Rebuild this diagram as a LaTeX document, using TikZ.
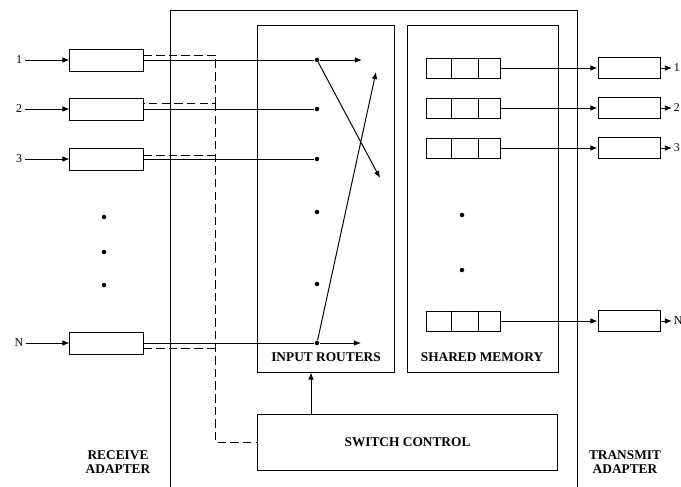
\documentclass[tikz,border=0pt]{standalone}
\usepackage{fontspec}
\setmainfont{Liberation Serif}
\usetikzlibrary{arrows.meta,calc}
\begin{document}
\begin{tikzpicture}[
    x=0.025cm, y=-0.025cm, % 像素坐标, y 轴向下
    >={Latex[length=5pt,width=4pt]}, % 箭头样式
    line width=0.7pt,
    rxbox/.style={draw, inner sep=0pt, minimum width=1.825cm, minimum height=0.55cm},
    txbox/.style={draw, inner sep=0pt, minimum width=1.55cm, minimum height=0.52cm},
    queue/.style={draw, inner sep=0pt, minimum width=1.85cm, minimum height=0.5cm},
    dot/.style={circle, fill, inner sep=0pt, minimum size=3.2pt},
    port/.style={inner sep=1.5pt, font=\fontsize{8.5}{9}\selectfont},
    lbl/.style={align=center, inner sep=1pt, font=\bfseries\fontsize{9.5}{10.5}\selectfont},
    ctrlline/.style={dashed, dash pattern=on 6pt off 3pt}
]
    \useasboundingbox (0,0) rectangle (681,486);

    % 1. 外框 (交换机主体)
    \draw (170,490) |- (577,10) -- (577,490);

    % 2. 内部模块
    \node[draw, minimum width=3.4cm, minimum height=8.65cm] (routers) at (326,199) {};
    \node[draw, minimum width=3.75cm, minimum height=8.65cm] (memory) at (483,199) {};
    \node[draw, lbl, minimum width=7.5cm, minimum height=1.4cm] (ctrl) at (407.5,442) {SWITCH CONTROL};
    \node[lbl] (routers label) at (326,357) {INPUT ROUTERS};
    \node[lbl] (memory label) at (482,357) {SHARED MEMORY};

    % 3. 接收端: 端口/接收框/路由点
    \foreach \i/\y/\off in {1/60/-5, 2/109/-6, 3/159/-4, N/343/5} {
        \node[port] (in\i) at (19,\y) {\i};
        \node[rxbox] (rx\i) at (106.5,\y) {};
        \node[dot] (d\i) at (317,\y) {};
        \coordinate (tap\i) at ($(rx\i.east)+(0,\off)$);
        \draw[->] (in\i) -- (rx\i);
        \draw (rx\i) -- (d\i);
    }
    \foreach \y in {217,252,285} {
        \node[dot] (rdot\y) at (104,\y) {};
    }
    \node[dot] (dmid1) at (317,212) {};
    \node[dot] (dmid2) at (317,284) {};

    % 4. 路由交叉
    \coordinate (a1) at (362,60);
    \coordinate (aN) at (361,343);
    \coordinate (x1) at (380,178);
    \coordinate (x2) at (376,72);
    \draw[->] (d1) -- (a1);
    \draw[->] (dN) -- (aN);
    \draw[->] (d1) -- (x1);
    \draw[->] (dN) -- (x2);

    % 5. 控制虚线
    \coordinate (bus) at (215,442);
    \draw[ctrlline] (tap1) -| (bus |- tap2) -- (tap2);
    \draw[ctrlline] (bus |- tap2) -- (bus) -- (ctrl.west);
    \draw[ctrlline] (tap3) -- (bus |- tap3);
    \draw[ctrlline] (tapN) -- (bus |- tapN);
    \draw[->] ($(ctrl.north)+(-96.5,0)$) -- ($(routers.south)+(-15,0)$);

    % 6. 共享内存队列 -> 发送端
    \foreach \i/\y in {1/68, 2/108, 3/148, N/321} {
        \node[queue] (q\i) at (463,\y) {};
        \draw ($(q\i.north west)!0.34!(q\i.north east)$) -- ($(q\i.south west)!0.34!(q\i.south east)$);
        \draw ($(q\i.north west)!0.70!(q\i.north east)$) -- ($(q\i.south west)!0.70!(q\i.south east)$);
        \node[txbox] (tx\i) at (629,\y) {};
        \node[port, anchor=west, inner sep=1pt] (out\i) at (672,\y) {\i};
        \draw[->] (q\i) -- (tx\i);
        \draw[->] (tx\i) -- (out\i);
    }
    \node[dot] (mdot1) at (462,215) {};
    \node[dot] (mdot2) at (462,270) {};

    % 7. 底部标签
    \node[lbl] (rx label) at (118,462) {RECEIVE\\ADAPTER};
    \node[lbl] (tx label) at (625,462) {TRANSMIT\\ADAPTER};
\end{tikzpicture}
\end{document}
